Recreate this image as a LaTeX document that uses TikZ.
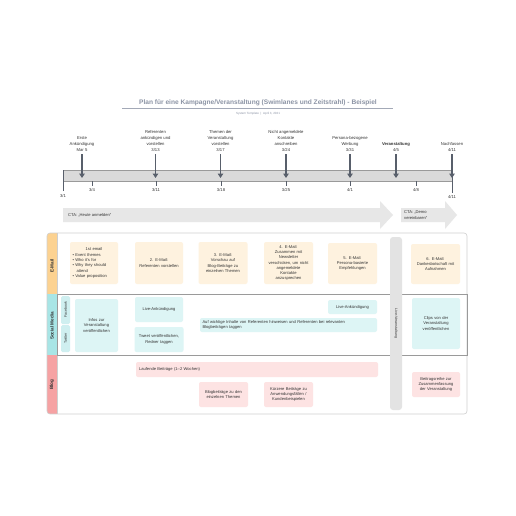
\documentclass[tikz,border=0pt]{standalone}
\usepackage{fontspec}
\setmainfont{Liberation Sans}
\usetikzlibrary{arrows.meta}
\definecolor{efill}{HTML}{FEF2DF}
\definecolor{ehead}{HTML}{FCD291}
\definecolor{sfill}{HTML}{DDF5F5}
\definecolor{shead}{HTML}{A8E5E6}
\definecolor{stab}{HTML}{CFEFF0}
\definecolor{bfill}{HTML}{FDE3E3}
\definecolor{bhead}{HTML}{F6A2A3}
\definecolor{txtc}{HTML}{333333}
\definecolor{titlec}{HTML}{8C94A5}
\definecolor{markc}{HTML}{585F6B}
\definecolor{barfill}{HTML}{DADADA}
\definecolor{ctafill}{HTML}{E7E7E7}
\definecolor{framec}{HTML}{CFCFCF}
\definecolor{lanec}{HTML}{9A9A9A}
\definecolor{livec}{HTML}{E3E3E3}
\newcommand\fTL{\fontsize{4.2}{6}\selectfont}
\newcommand\fBX{\fontsize{4.1}{5.3}\selectfont}
\newcommand\fHD{\fontsize{4.6}{5.5}\selectfont\bfseries}
\newcommand\fTB{\fontsize{3.6}{4.5}\selectfont}
\tikzset{
  tlabel/.style={font=\fTL, text=txtc, align=center, inner sep=0pt, anchor=south},
  datelbl/.style={font=\fTL, text=txtc, inner sep=0pt},
  marker/.style={draw=markc, line width=1.2pt, -{Triangle[width=5.5pt,length=4.5pt]}},
  tick/.style={draw=markc, line width=0.5pt},
  box/.style={rounded corners=2pt, draw=none, align=center, inner sep=1pt, font=\fBX, text=txtc},
  ebox/.style={box, fill=efill},
  sbox/.style={box, fill=sfill},
  bbox/.style={box, fill=bfill},
  lanehd/.style={font=\fHD, text=txtc, rotate=90, inner sep=0pt},
  tabbox/.style={rounded corners=1.5pt, fill=stab, font=\fTB, text=txtc, rotate=90, inner sep=0pt, minimum height=9pt},
}
\begin{document}
\begin{tikzpicture}[x=1pt,y=-1pt]
\useasboundingbox[fill=white] (0,0) rectangle (516,516);

% title
\node[font=\fontsize{6.6}{8}\selectfont\bfseries, text=titlec, inner sep=0pt] (title) at (258,102.5)
  {Plan für eine Kampagne/Veranstaltung (Swimlanes und Zeitstrahl) - Beispiel};
\coordinate (ulA) at (122,108.5);
\coordinate (ulB) at (393,108.5);
\draw[titlec!80, line width=0.7pt] (ulA) -- (ulB);
\node[font=\fontsize{3}{4}\selectfont, text=titlec, inner sep=0pt] (subtitle) at (258,113.5)
  {System Template \ | \ April 3, 2021};

% timeline bar
\draw[fill=barfill, draw=lanec, line width=0.5pt] (63,170) rectangle (452,181);
\coordinate (t0) at (63,170);
\coordinate (t0e) at (63,191);
\draw[tick] (t0) -- (t0e);
\node[datelbl] (d0) at (63,195.5) {3/1};
\coordinate (tE) at (452,170);
\coordinate (tEe) at (452,193);
\draw[tick] (tE) -- (tEe);
\node[datelbl] (dE) at (452,196.5) {4/11};
\foreach \x/\d [count=\i] in {92/3\slash4, 156/3\slash11, 221/3\slash18, 286/3\slash25, 350/4\slash1, 416/4\slash8}{
  \coordinate (tk\i) at (\x,181);
  \coordinate (tke\i) at (\x,186);
  \draw[tick] (tk\i) -- (tke\i);
  \node[datelbl] (dt\i) at (\x,190) {\d};
}

% milestones
\node[tlabel] (m1) at (82,152) {Erste\\Ankündigung\\Mar 5};
\node[tlabel] (m2) at (155.5,152) {Referenten\\ankündigen und\\vorstellen\\3/13};
\node[tlabel] (m3) at (220.5,152) {Themen der\\Veranstaltung\\vorstellen\\3/17};
\node[tlabel] (m4) at (286,152) {Nicht angemeldete\\Kontakte\\anschreiben\\3/24};
\node[tlabel] (m5) at (350,152) {Persona-bezogene\\Werbung\\3/31};
\node[tlabel] (m6) at (396,152) {\textbf{Veranstaltung}\\4/5};
\node[tlabel] (m7) at (452,152) {Nachfassen\\4/11};
\foreach \i/\x in {1/82, 2/155.5, 3/220.5, 4/286, 5/350, 6/396, 7/452}{
  \coordinate (b\i) at (\x,178);
  \draw[marker] ([yshift=-2pt]m\i.south) -- (b\i);
}

% CTA arrows
\fill[ctafill] (63,208) -- (380,208) -- (380,201) -- (393,215) -- (380,229) -- (380,222) -- (63,222) -- cycle;
\node[font=\fBX, text=txtc, anchor=west, inner sep=0pt] (cta1) at (68,215) {CTA: „Heute anmelden“};
\fill[ctafill] (401,208) -- (445,208) -- (445,201) -- (457,215) -- (445,229) -- (445,222) -- (401,222) -- cycle;
\node[font=\fBX, text=txtc, anchor=west, align=left, inner sep=0pt] (cta2) at (404,215) {CTA: „Demo\\vereinbaren“};

% swimlane frame and headers
\begin{scope}
  \clip[rounded corners=3pt] (47,233) rectangle (467,414);
  \fill[ehead] (47,233) rectangle (57,294);
  \fill[shead] (47,294) rectangle (57,355);
  \fill[bhead] (47,355) rectangle (57,414);
\end{scope}
\draw[framec, line width=0.6pt, rounded corners=3pt] (47,233) rectangle (467,414);
\draw[framec, line width=0.6pt] (57,233) -- (57,414);
\draw[lanec, line width=0.6pt] (57,294) rectangle (467,355);

\node[lanehd] (hE) at (52,266) {E-Mail};
\node[lanehd] (hS) at (52,326) {Social Media};
\node[lanehd] (hB) at (52,384.5) {Blog};
\node[tabbox, minimum width=28pt] (fb) at (65.5,310) {Facebook};
\node[tabbox, minimum width=27pt] (tw) at (65.5,338.5) {Twitter};

% live bar
\fill[livec, rounded corners=3pt] (390,237) rectangle (402,410);
\node[font=\fTB, text=txtc, rotate=-90, inner sep=0pt] (live) at (396,323.5) {Live-Veranstaltung};

% E-Mail lane
\node[ebox, minimum width=48pt, minimum height=42pt, text width=43pt, inner sep=2.5pt, align=left] (e1) at (94,263)
  {\hfill 1st email\hfill\null\\
   \textbullet\ Event themes\\
   \textbullet\ Who it's for\\
   \textbullet\ Why they should\\
   \hspace*{4pt}attend\\
   \textbullet\ Value proposition};
\node[ebox, minimum width=48pt, minimum height=42pt, text width=46pt] (e2) at (159,263) {2. E-Mail:\\Referenten vorstellen};
\node[ebox, minimum width=49pt, minimum height=42pt, text width=46pt] (e3) at (223,263) {3. E-Mail:\\Vorschau auf\\Blog-Beiträge zu\\einzelnen Themen};
\node[ebox, minimum width=49pt, minimum height=42pt, text width=47pt] (e4) at (288.5,263) {4. E-Mail:\\Zusammen mit\\Newsletter\\verschicken, um nicht\\angemeldete\\Kontakte\\anzusprechen};
\node[ebox, minimum width=49pt, minimum height=41pt, text width=46pt] (e5) at (352.5,263.5) {5. E-Mail:\\Persona-basierte\\Empfehlungen};
\node[ebox, minimum width=49pt, minimum height=40pt, text width=47pt] (e6) at (435.5,264) {6. E-Mail:\\Dankesbotschaft mit\\Aufnahmen};

% Social Media lane
\node[sbox, minimum width=43pt, minimum height=53pt, text width=41pt] (s1) at (96.5,325.5) {Infos zur\\Veranstaltung\\veröffentlichen};
\node[sbox, minimum width=48pt, minimum height=25pt, text width=46pt] (s2) at (159,309.5) {Live-Ankündigung};
\node[sbox, minimum width=48pt, minimum height=25pt, text width=47pt] (s3) at (159,339.5) {Tweet veröffentlichen,\\Redner taggen};
\node[sbox, minimum width=177pt, minimum height=14pt, text width=172pt, align=left] (s4) at (288.5,325) {Auf wichtige Inhalte von Referenten hinweisen und Referenten bei relevanten\\Blogbeiträgen taggen};
\node[sbox, minimum width=49pt, minimum height=14pt, text width=46pt] (s5) at (352.5,307) {Live-Ankündigung};
\node[sbox, minimum width=48pt, minimum height=51pt, text width=46pt] (s6) at (436,323.5) {Clips von der\\Veranstaltung\\veröffentlichen};

% Blog lane
\node[bbox, minimum width=242pt, minimum height=15pt, text width=236pt, align=left] (bl1) at (257,369.5) {Laufende Beiträge (1–2 Wochen)};
\node[bbox, minimum width=49pt, minimum height=25pt, text width=47pt] (bl2) at (223.5,394.5) {Blogbeiträge zu den\\einzelnen Themen};
\node[bbox, minimum width=49pt, minimum height=25pt, text width=47pt] (bl3) at (288.5,394.5) {Kürzere Beiträge zu\\Anwendungsfällen /\\Kundenbeispielen};
\node[bbox, minimum width=48pt, minimum height=25pt, text width=46pt] (bl4) at (436,384.5) {Beitragsreihe zur\\Zusammenfassung\\der Veranstaltung};
\end{tikzpicture}
\end{document}
